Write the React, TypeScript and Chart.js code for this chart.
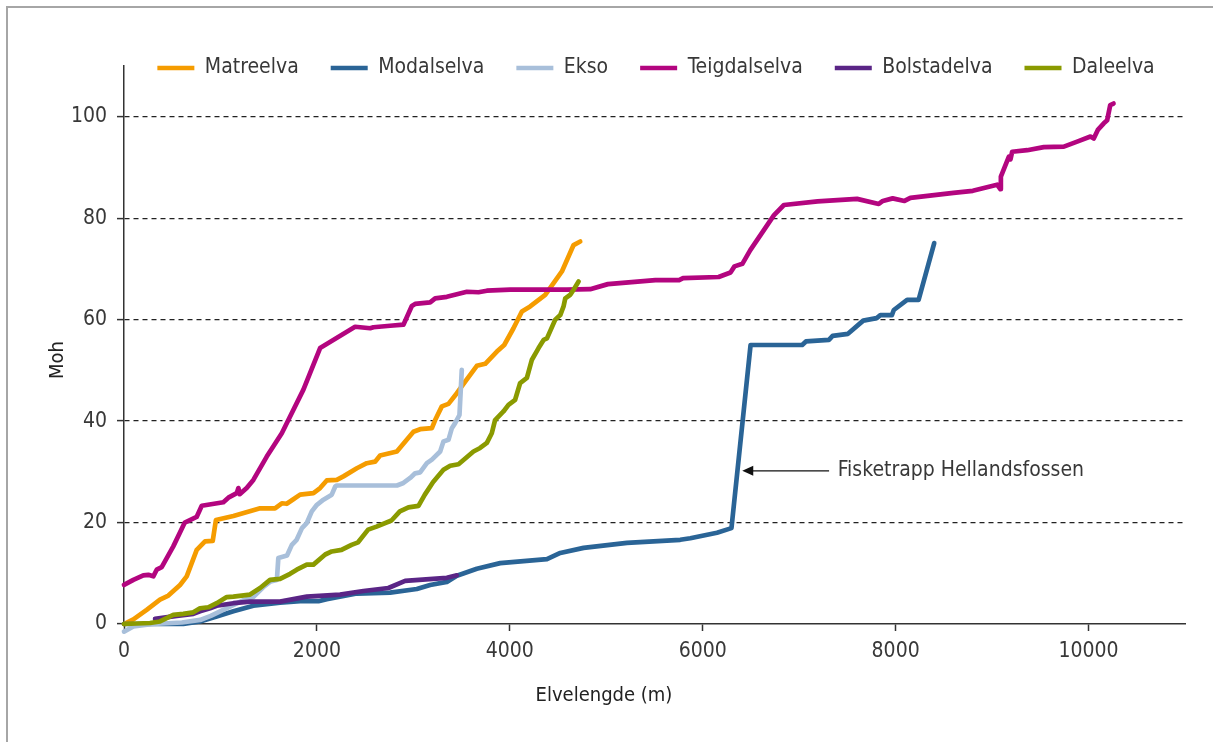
import React, { useEffect, useRef } from "react";
import { Chart, registerables } from "chart.js";

Chart.register(...registerables);

const FONT = "'DejaVu Sans Condensed', 'Liberation Sans Narrow', sans-serif";

const seriesNames = ["Matreelva", "Modalselva", "Ekso", "Teigdalselva", "Bolstadelva", "Daleelva"];
const seriesColors = ["#f59c00", "#2a6496", "#a8bfda", "#b3057f", "#5a2586", "#8a9a00"];

const matreelvaX = [0, 97, 235, 373, 460, 581, 650, 754, 840, 920, 953, 1134, 1411, 1566, 1636, 1687, 1756, 1826, 1964, 2033, 2102, 2206, 2275, 2414, 2517, 2603, 2655, 2829, 3001, 3070, 3192, 3226, 3295, 3364, 3451, 3537, 3658, 3745, 3866, 3942, 4038, 4125, 4211, 4367, 4540, 4661, 4730];
const matreelvaY = [0, 0.9, 2.8, 4.8, 5.6, 7.7, 9.4, 14.6, 16.3, 16.4, 20.5, 21.3, 22.8, 22.8, 23.8, 23.7, 24.6, 25.5, 25.8, 26.8, 28.3, 28.4, 29.1, 30.7, 31.7, 32.0, 33.2, 34.0, 37.9, 38.4, 38.6, 40.2, 42.9, 43.4, 45.5, 47.8, 50.9, 51.3, 53.7, 55.0, 58.3, 61.6, 62.6, 64.9, 69.5, 74.7, 75.4];

const modalselvaX = [0, 615, 788, 961, 1134, 1341, 1618, 1826, 2016, 2102, 2414, 2759, 3036, 3174, 3347, 3451, 3658, 3900, 4385, 4523, 4765, 5214, 5767, 5871, 6148, 6298, 6496, 7031, 7070, 7308, 7347, 7506, 7664, 7803, 7842, 7961, 7981, 8119, 8238, 8400];
const modalselvaY = [0, 0, 0.5, 1.5, 2.5, 3.6, 4.2, 4.5, 4.5, 4.9, 6.0, 6.2, 6.9, 7.7, 8.3, 9.5, 10.9, 12.0, 12.8, 14.0, 15.0, 16.0, 16.6, 16.9, 18.0, 18.9, 55.0, 55.0, 55.7, 56.0, 56.8, 57.2, 59.8, 60.3, 60.9, 60.9, 61.9, 63.9, 63.9, 75.1];

const eksoX = [0, 97, 300, 600, 790, 900, 1050, 1240, 1340, 1440, 1520, 1585, 1600, 1690, 1740, 1790, 1845, 1895, 1947, 2000, 2068, 2154, 2190, 2206, 2830, 2897, 2967, 3018, 3070, 3140, 3192, 3278, 3312, 3364, 3399, 3433, 3478, 3502];
const eksoY = [-1.5, -0.5, 0, 0.3, 0.8, 1.6, 3.0, 4.7, 5.3, 7.2, 8.4, 8.7, 13.0, 13.5, 15.6, 16.6, 18.9, 19.9, 22.2, 23.5, 24.5, 25.5, 27.1, 27.3, 27.3, 27.8, 28.8, 29.7, 29.9, 31.7, 32.4, 34.0, 36.0, 36.3, 38.6, 39.6, 41.2, 50.1];

const teigdalselvaX = [0, 97, 200, 252, 304, 339, 391, 511, 630, 753, 806, 1030, 1082, 1169, 1186, 1200, 1272, 1341, 1480, 1636, 1860, 2033, 2396, 2552, 2586, 2759, 2897, 2984, 3018, 3174, 3226, 3347, 3555, 3675, 3762, 4004, 4592, 4833, 5017, 5509, 5755, 5796, 6165, 6288, 6329, 6411, 6493, 6739, 6842, 7191, 7600, 7825, 7867, 7969, 8092, 8153, 8600, 8800, 9052, 9087, 9091, 9173, 9191, 9208, 9364, 9536, 9744, 9882, 10020, 10054, 10096, 10158, 10193, 10225, 10259];
const teigdalselvaY = [7.7, 8.7, 9.6, 9.7, 9.4, 10.7, 11.2, 15.3, 20.0, 21.1, 23.3, 24.0, 24.9, 25.8, 26.8, 25.6, 26.8, 28.4, 33.0, 37.6, 46.2, 54.4, 58.6, 58.3, 58.5, 58.8, 59.0, 62.7, 63.1, 63.4, 64.2, 64.5, 65.5, 65.4, 65.7, 65.9, 65.9, 66.0, 67.0, 67.8, 67.8, 68.2, 68.4, 69.3, 70.5, 71.0, 73.7, 80.6, 82.6, 83.3, 83.8, 82.8, 83.4, 83.9, 83.4, 84.0, 85.0, 85.4, 86.6, 85.7, 88.2, 92.1, 91.6, 93.1, 93.4, 94.0, 94.1, 95.1, 96.1, 95.7, 97.4, 98.7, 99.3, 102.3, 102.6];

const bolstadelvaX = [322, 547, 719, 788, 892, 961, 1134, 1307, 1618, 1895, 2240, 2482, 2741, 2915, 3347, 3451];
const bolstadelvaY = [1.0, 1.6, 2.0, 2.5, 3.1, 3.6, 4.1, 4.4, 4.4, 5.4, 5.8, 6.5, 7.1, 8.5, 9.1, 9.6];

const daleelvaX = [0, 270, 373, 511, 615, 719, 788, 874, 961, 1065, 1134, 1307, 1411, 1514, 1618, 1722, 1791, 1895, 1964, 2086, 2154, 2255, 2359, 2427, 2531, 2618, 2773, 2860, 2949, 3053, 3119, 3205, 3312, 3382, 3468, 3623, 3692, 3762, 3813, 3847, 3934, 3986, 4055, 4107, 4177, 4229, 4298, 4350, 4385, 4471, 4523, 4557, 4575, 4627, 4661, 4713];
const daleelvaY = [0, 0.2, 0.5, 1.8, 2.0, 2.3, 3.1, 3.3, 4.1, 5.3, 5.4, 5.8, 7.1, 8.7, 8.9, 9.9, 10.7, 11.7, 11.7, 13.7, 14.3, 14.6, 15.6, 16.1, 18.6, 19.2, 20.4, 22.2, 23.0, 23.3, 25.5, 28.0, 30.4, 31.2, 31.5, 34.0, 34.7, 35.7, 37.6, 40.2, 41.9, 43.2, 44.2, 47.5, 48.5, 52.1, 54.4, 56.0, 56.3, 60.0, 60.9, 62.6, 64.2, 64.9, 65.9, 67.5];

const seriesX = [matreelvaX, modalselvaX, eksoX, teigdalselvaX, bolstadelvaX, daleelvaX];
const seriesY = [matreelvaY, modalselvaY, eksoY, teigdalselvaY, bolstadelvaY, daleelvaY];

const xTitle = "Elvelengde (m)";
const yTitle = "Moh";
const xMin = 0, xMax = 11000;
const yMin = 0, yMax = 110;
const xTickValues = [0, 2000, 4000, 6000, 8000, 10000];
const yTickValues = [0, 20, 40, 60, 80, 100];

const annotationText = "Fisketrapp Hellandsfossen";
const annotationY = 30.2;
const annotationArrowTipX = 6410;
const annotationArrowTailX = 7310;
const annotationTextX = 7400;

const TEXT_FONT = 21;
const TITLE_FONT = 20;
const TEXT_COLOR = "#383838";
const LEGEND_PAD = 32;
const LEGEND_CENTER_Y = 68;
const LEGEND_CENTER_X = 656;
const X_TITLE_POS = { x: 604, y: 696 };
const Y_TITLE_POS = { x: 58, y: 360 };

const legendPlacer = {
  id: "legendPlacer",
  beforeLayout(chart: any) {
    const lg = chart.legend;
    if (lg && !lg.__patched) {
      const orig = lg.fit.bind(lg);
      lg.fit = function () {
        orig();
        this.height = 0;
      };
      lg.__patched = true;
    }
  },
  afterLayout(chart: any) {
    const lg = chart.legend;
    if (!lg) return;
    const top = LEGEND_CENTER_Y - LEGEND_PAD - TEXT_FONT / 2;
    lg.top = top;
    lg.bottom = top + TEXT_FONT + LEGEND_PAD;
    lg.left = LEGEND_CENTER_X - 590;
    lg.right = LEGEND_CENTER_X + 590;
  },
};

const titlesAndNote = {
  id: "titlesAndNote",
  afterDatasetsDraw(chart: any) {
    const { ctx, scales } = chart;
    const xs = scales.x, ys = scales.y;
    const y = ys.getPixelForValue(annotationY);
    const tip = xs.getPixelForValue(annotationArrowTipX);
    const tail = xs.getPixelForValue(annotationArrowTailX);
    ctx.save();
    ctx.strokeStyle = "#111";
    ctx.fillStyle = "#111";
    ctx.lineWidth = 1.3;
    ctx.beginPath();
    ctx.moveTo(tail, y);
    ctx.lineTo(tip + 8, y);
    ctx.stroke();
    ctx.beginPath();
    ctx.moveTo(tip, y);
    ctx.lineTo(tip + 11, y - 5);
    ctx.lineTo(tip + 11, y + 5);
    ctx.closePath();
    ctx.fill();
    ctx.font = `${TEXT_FONT}px ${FONT}`;
    ctx.fillStyle = TEXT_COLOR;
    ctx.textAlign = "left";
    ctx.textBaseline = "middle";
    ctx.fillText(annotationText, xs.getPixelForValue(annotationTextX), y);

    ctx.font = `${TITLE_FONT}px ${FONT}`;
    ctx.fillStyle = "#222";
    ctx.textAlign = "center";
    ctx.fillText(xTitle, X_TITLE_POS.x, X_TITLE_POS.y);
    ctx.translate(Y_TITLE_POS.x, Y_TITLE_POS.y);
    ctx.rotate(-Math.PI / 2);
    ctx.fillText(yTitle, 0, 0);
    ctx.restore();
  },
};

export default function App() {
  const ref = useRef<HTMLCanvasElement>(null);

  useEffect(() => {
    if (!ref.current) return;
    const datasets = seriesNames.map((name, i) => ({
      label: name,
      data: seriesX[i].map((x, j) => ({ x, y: seriesY[i][j] })),
      borderColor: seriesColors[i],
      backgroundColor: seriesColors[i],
      borderWidth: 4.7,
      borderCapStyle: "round" as const,
      borderJoinStyle: "round" as const,
      pointRadius: 0,
      tension: 0,
      fill: false,
      clip: false as any,
      order: seriesNames.length - 1 - i,
    }));

    const chart = new Chart(ref.current, {
      type: "line",
      data: { datasets },
      plugins: [legendPlacer, titlesAndNote],
      options: {
        animation: false,
        responsive: false,
        devicePixelRatio: 1,
        layout: { padding: { left: 20, right: 28, top: 66, bottom: 20 } },
        plugins: {
          tooltip: { enabled: false },
          legend: {
            display: true,
            position: "top",
            align: "center",
            fullSize: true,
            labels: {
              font: { family: FONT, size: TEXT_FONT },
              color: TEXT_COLOR,
              usePointStyle: true,
              pointStyle: "line",
              pointStyleWidth: 37,
              padding: LEGEND_PAD,
              sort: (a: any, b: any) => a.datasetIndex - b.datasetIndex,
            },
          },
        },
        scales: {
          x: {
            type: "linear",
            min: xMin,
            max: xMax,
            afterBuildTicks: (s: any) => {
              s.ticks = xTickValues.map((value) => ({ value }));
            },
            afterFit: (s: any) => {
              s.height = 98;
            },
            ticks: {
              autoSkip: false,
              font: { family: FONT, size: TEXT_FONT },
              color: TEXT_COLOR,
              padding: 8,
              maxRotation: 0,
              minRotation: 0,
              callback: (v: any) => String(v),
            },
            grid: {
              display: true,
              drawOnChartArea: false,
              drawTicks: true,
              tickLength: 7,
              tickColor: "#333",
              tickWidth: 1.5,
            },
            border: { display: true, color: "#333", width: 1.5 },
            title: { display: false },
          },
          y: {
            type: "linear",
            min: yMin,
            max: yMax,
            afterBuildTicks: (s: any) => {
              s.ticks = yTickValues.map((value) => ({ value }));
            },
            afterFit: (s: any) => {
              s.width = 104;
            },
            ticks: {
              autoSkip: false,
              font: { family: FONT, size: TEXT_FONT },
              color: TEXT_COLOR,
              padding: 10,
              callback: (v: any) => String(v),
            },
            grid: {
              display: true,
              drawOnChartArea: true,
              drawTicks: true,
              tickLength: 7,
              tickColor: "#333",
              tickWidth: 1.5,
              lineWidth: 1.2,
              color: (c: any) => (c.tick && c.tick.value === 0 ? "rgba(0,0,0,0)" : "#222"),
            },
            border: { display: true, color: "#333", width: 1.5, dash: [5, 4] },
            title: { display: false },
          },
        },
      } as any,
    });
    return () => chart.destroy();
  }, []);

  return (
    <div style={{ position: "absolute", left: 0, top: 0, width: 1213, height: 742, overflow: "hidden", background: "#fff" }}>
      <div style={{ position: "absolute", left: 6, top: 6, width: 1207, height: 2, background: "#a6a6a6" }} />
      <div style={{ position: "absolute", left: 6, top: 6, width: 2, height: 736, background: "#a6a6a6" }} />
      <canvas ref={ref} width={1213} height={742} style={{ position: "absolute", left: 0, top: 0, width: 1213, height: 742 }} />
    </div>
  );
}
